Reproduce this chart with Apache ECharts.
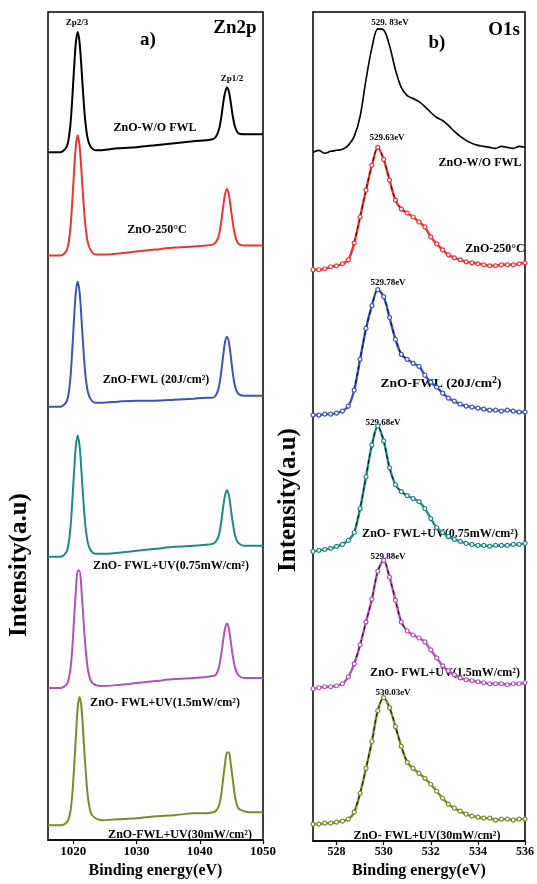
<!DOCTYPE html>
<html><head><meta charset="utf-8">
<script src="https://cdn.jsdelivr.net/npm/echarts@6/dist/echarts.min.js"></script>
<style>html,body{margin:0;padding:0;background:#fff}#c{width:537px;height:884px}</style>
</head><body><div id="c"></div>
<script>
// ---------- Zn2p panel (a) ----------
const ZN_ENERGY = [1016,1017,1018,1019,1019.5,1019.8,1020.1,1020.4,1020.7,1021.0,1021.3,1021.6,1021.9,1022.3,1022.8,1023.5,1024.5,1027,1030,1033,1036,1039,1041,1042,1042.5,1043.0,1043.4,1043.7,1044.0,1044.3,1044.6,1044.9,1045.2,1045.6,1046.1,1047,1048,1050];
const ZN_WO   = [692,692,692,698,717,742,774,802,813,802,776,747,723,705,697,694,694,696,697,699,701,703,704,705,707,714,727,741,752,757,753,742,729,717,711,710,710,710];
const ZN_250  = [588,588,588,594,613,638,670,698,709,698,672,643,619,601,593,589,589,590,592,594,596,597,598,599,601,608,622,637,650,655,649,636,622,608,600,598,598,598];
const ZN_FWL  = [436,436,436,442,462,489,522,551,562,551,524,494,469,451,443,440,440,441,442,442,443,444,445,445,447,455,471,487,501,506,501,487,471,456,449,447,447,447];
const ZN_UV075= [285,285,285,291,311,336,368,396,407,396,370,341,317,299,291,288,288,289,291,293,295,296,297,298,300,306,320,335,347,352,347,334,320,306,299,296,296,296];
const ZN_UV15 = [153,153,153,157,170,189,220,250,271,271,251,223,196,172,160,156,155,156,158,160,162,163,164,165,166,173,187,201,213,218,213,200,186,173,166,163,163,163];
const ZN_UV30 = [15,15,15,18,27,43,70,103,133,144,133,105,75,44,27,22,20,21,22,24,25,27,27,28,29,34,46,62,77,88,88,77,62,43,32,29,28,28];
const ZN_TICKS = [1020,1030,1040,1050];

// ---------- O1s panel (b) ----------
const O_ENERGY = [527.00,527.25,527.50,527.75,528.00,528.25,528.50,528.75,529.00,529.25,529.50,529.75,530.00,530.25,530.50,530.75,531.00,531.25,531.50,531.75,532.00,532.25,532.50,532.75,533.00,533.25,533.50,533.75,534.00,534.25,534.50,534.75,535.00,535.25,535.50,535.75,536.00];
const O_WO    = [692,694,691,693,694,695,699,708,728,765,797,816,815,799,775,757,749,746,743,738,732,727,724,719,713,708,704,701,699,698,697,696,698,697,696,698,697];
const O_250   = [574,574,575,577,578,580,584,601,627,654,679,697,685,664,644,635,631,627,622,617,607,600,594,589,586,584,582,581,580,579,578,578,579,579,579,580,581];
const O_FWL   = [428,428,429,429,430,432,437,453,484,515,538,554,547,526,504,489,484,480,477,468,461,456,450,445,442,439,437,436,435,434,433,433,432,433,432,431,431];
const O_UV075 = [291,292,293,294,296,298,302,310,334,366,398,417,402,375,358,351,347,344,341,334,324,315,310,306,303,301,299,298,297,297,296,297,297,297,298,298,299];
const O_UV15  = [153,154,155,155,156,158,165,178,197,220,243,271,282,265,242,220,211,207,204,200,192,184,176,171,167,164,162,161,160,159,158,158,158,157,158,158,159];
const O_UV30  = [17,17,18,18,19,20,22,29,48,73,100,131,144,134,115,95,79,73,68,63,57,50,43,37,33,30,27,25,24,23,23,21,22,22,21,22,22];
const O_TICKS = [528,530,532,534,536];

const COLORS = ['#000000','#ee3333','#3b55b5','#1f8a84','#b550b5','#7b8b2b'];
const ZN_SERIES = [ZN_WO, ZN_250, ZN_FWL, ZN_UV075, ZN_UV15, ZN_UV30];
const O_SERIES  = [O_WO, O_250, O_FWL, O_UV075, O_UV15, O_UV30];

const SERIF = '"Liberation Serif", "Times New Roman", serif';
function pairs(xs, ys){ return ys.map((y,i)=>[xs[i], y]); }

const series = [];
ZN_SERIES.forEach((ys, k) => {
  series.push({type:'line', xAxisIndex:0, yAxisIndex:0, data:pairs(ZN_ENERGY, ys),
    showSymbol:false, smooth:0.3, lineStyle:{color:COLORS[k], width:2}, animation:false, silent:true});
});
O_SERIES.forEach((ys, k) => {
  if (k === 0) {
    series.push({type:'line', xAxisIndex:1, yAxisIndex:1, data:pairs(O_ENERGY, ys),
      showSymbol:false, smooth:0.3, lineStyle:{color:'#000', width:1.6}, animation:false, silent:true});
  } else {
    series.push({type:'line', xAxisIndex:1, yAxisIndex:1, data:pairs(O_ENERGY, ys),
      symbol:'circle', symbolSize:4, showSymbol:true, smooth:0.3,
      lineStyle:{color:COLORS[k], width:2.4},
      itemStyle:{color:'#ffffff', borderColor:COLORS[k], borderWidth:1.2},
      animation:false, silent:true});
    series.push({type:'line', xAxisIndex:1, yAxisIndex:1, data:pairs(O_ENERGY.slice(7,17), ys.slice(7,17)),
      showSymbol:false, smooth:0.3, z:3, lineStyle:{color:'#000', width:0.9, type:[4,3]}, animation:false, silent:true});
  }
});

function xAxisDef(idx, min, max, ticks, fs){
  return {type:'value', gridIndex:idx, min:min, max:max,
    axisLine:{show:true, lineStyle:{color:'#000', width:1.5}},
    axisTick:{show:true, customValues:ticks, length:4, lineStyle:{color:'#000', width:1.2}},
    axisLabel:{customValues:ticks, formatter:function(v){return String(v);}, color:'#000', fontFamily:SERIF, fontWeight:'bold', fontSize:fs, margin:5, showMinLabel:true, showMaxLabel:true},
    splitLine:{show:false},
    name:'Binding energy(eV)', nameLocation:'middle', nameGap:22,
    nameTextStyle:{color:'#000', fontFamily:SERIF, fontWeight:'bold', fontSize:16}};
}
function yAxisDef(idx){
  return {type:'value', gridIndex:idx, min:0, max:833, axisLine:{show:false}, axisTick:{show:false},
    axisLabel:{show:false}, splitLine:{show:false}};
}

function txt(x, y, s, size, extra){
  return Object.assign({type:'text', x:x, y:y, silent:true,
    style:{text:s, fill:'#000', font:'bold '+size+'px '+SERIF, textAlign:'center', textVerticalAlign:'middle'}}, extra||{});
}

const graphics = [
  txt(77, 23, 'Zp2/3', 9),
  txt(148, 40, 'a)', 19),
  txt(235, 28, 'Zn2p', 19),
  txt(232, 79, 'Zp1/2', 9),
  txt(155, 128, 'ZnO-W/O FWL', 12),
  txt(157, 230, 'ZnO-250°C', 12),
  txt(156, 380, 'ZnO-FWL (20J/cm²)', 12),
  txt(171, 566, 'ZnO- FWL+UV(0.75mW/cm²)', 12),
  txt(165, 703, 'ZnO- FWL+UV(1.5mW/cm²)', 12),
  txt(180, 835, 'ZnO-FWL+UV(30mW/cm²)', 12),
  txt(390, 23, '529. 83eV', 9),
  txt(437, 43, 'b)', 19),
  txt(504, 30, 'O1s', 19),
  txt(480, 163, 'ZnO-W/O FWL', 12),
  txt(387, 138, '529.63eV', 9),
  txt(495, 249, 'ZnO-250°C', 12),
  txt(388, 283, '529.78eV', 9),
  {type:'text', x:441, y:383, silent:true, style:{
    text:'{a|ZnO-FWL (20J/cm}{b|2}{a|)}', textAlign:'center', textVerticalAlign:'middle',
    rich:{a:{font:'bold 13.5px '+SERIF, fill:'#000', lineHeight:16, verticalAlign:'bottom'},
          b:{font:'bold 10px '+SERIF, fill:'#000', lineHeight:16, verticalAlign:'top'}}}},
  txt(383, 423, '529.68eV', 9),
  txt(440, 534, 'ZnO- FWL+UV(0.75mW/cm²)', 12),
  txt(388, 557, '529.88eV', 9),
  txt(445, 673, 'ZnO- FWL+UV(1.5mW/cm²)', 12),
  txt(393, 693, '530.03eV', 9),
  txt(427, 836, 'ZnO- FWL+UV(30mW/cm²)', 12),
  txt(20, 565, 'Intensity(a.u)', 25, {rotation:Math.PI/2}),
  txt(289, 500, 'Intensity(a.u)', 25, {rotation:Math.PI/2})
];

const chart = echarts.init(document.getElementById('c'));
chart.setOption({
  backgroundColor:'#ffffff',
  animation:false,
  grid:[
    {left:48, top:12, width:215, height:833, show:true, borderColor:'#000', borderWidth:1.5, backgroundColor:'transparent'},
    {left:313, top:12, width:216, height:833, show:true, borderColor:'#000', borderWidth:1.5, backgroundColor:'transparent'}
  ],
  xAxis:[xAxisDef(0, 1016, 1050, ZN_TICKS, 13), xAxisDef(1, 527, 536, O_TICKS, 12)],
  yAxis:[yAxisDef(0), yAxisDef(1)],
  series:series,
  graphic:graphics
});
</script></body></html>
